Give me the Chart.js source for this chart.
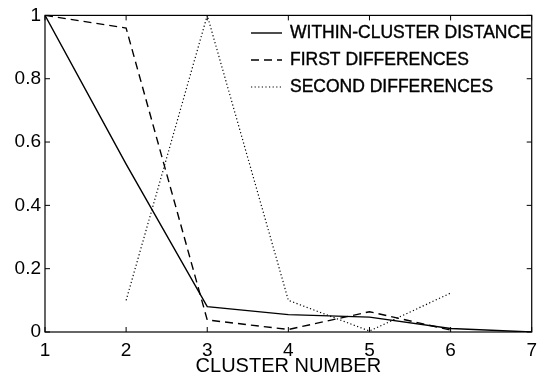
<!DOCTYPE html>
<html>
<head>
<meta charset="utf-8">
<script src="https://cdn.jsdelivr.net/npm/chart.js@4/dist/chart.umd.min.js"></script>
<style>
html,body{margin:0;padding:0;background:#fff;}
#wrap{width:544px;height:378px;}
</style>
</head>
<body>
<div id="wrap"><canvas id="c" width="544" height="378"></canvas></div>
<script>
const withinX = [1, 2, 3, 4, 5, 6, 7];
const withinY = [1.0, 0.53, 0.08, 0.055, 0.047, 0.011, 0.0];
const firstX = [1, 2, 3, 4, 5, 6];
const firstY = [1.0, 0.96, 0.038, 0.008, 0.064, 0.006];
const secondX = [2, 3, 4, 5, 6];
const secondY = [0.10, 1.0, 0.10, 0.003, 0.123];
const xTicks = [1, 2, 3, 4, 5, 6, 7];
const yTicks = [0, 0.2, 0.4, 0.6, 0.8, 1];
const seriesNames = ['WITHIN-CLUSTER DISTANCE', 'FIRST DIFFERENCES', 'SECOND DIFFERENCES'];
const xTitle = 'CLUSTER NUMBER';

const FONT = '"Liberation Sans", Arial, Helvetica, sans-serif';
const pts = (xs, ys) => xs.map((x, i) => ({x: x, y: ys[i]}));

const framePlugin = {
  id: 'frame',
  afterDatasetsDraw(chart) {
    const {ctx, chartArea: a, scales} = chart;
    ctx.save();
    ctx.strokeStyle = '#000';
    ctx.lineWidth = 1.2;
    ctx.strokeRect(a.left, a.top, a.right - a.left, a.bottom - a.top);
    const L = 5;
    ctx.lineWidth = 1;
    ctx.beginPath();
    xTicks.forEach(v => {
      const px = scales.x.getPixelForValue(v);
      ctx.moveTo(px, a.bottom); ctx.lineTo(px, a.bottom - L);
      ctx.moveTo(px, a.top); ctx.lineTo(px, a.top + L);
    });
    yTicks.forEach(v => {
      const py = scales.y.getPixelForValue(v);
      ctx.moveTo(a.left, py); ctx.lineTo(a.left + L, py);
      ctx.moveTo(a.right, py); ctx.lineTo(a.right - L, py);
    });
    ctx.stroke();
    // legend
    const lx0 = 251, lx1 = 282, tx = 290, y0 = 33, dy = 27;
    ctx.font = '17.5px ' + FONT;
    ctx.textBaseline = 'middle';
    ctx.textAlign = 'left';
    ctx.fillStyle = '#000';
    ctx.strokeStyle = '#000';
    chart.data.datasets.forEach((ds, i) => {
      const y = y0 + i * dy;
      ctx.save();
      ctx.strokeStyle = ds.borderColor;
      ctx.lineWidth = ds.borderWidth;
      ctx.setLineDash(ds.borderDash || []);
      ctx.beginPath();
      ctx.moveTo(lx0, y); ctx.lineTo(lx1, y);
      ctx.stroke();
      ctx.restore();
      ctx.fillText(ds.label, tx, y);
      ctx.lineWidth = 0.4;
      ctx.strokeText(ds.label, tx, y);
    });
    ctx.restore();
  }
};

new Chart(document.getElementById('c'), {
  type: 'line',
  data: {
    datasets: [
      {label: seriesNames[0], data: pts(withinX, withinY), borderColor: '#000', borderWidth: 1.4, borderDash: [], pointRadius: 0, tension: 0, fill: false},
      {label: seriesNames[1], data: pts(firstX, firstY), borderColor: '#000', borderWidth: 1.4, borderDash: [8, 5], pointRadius: 0, tension: 0, fill: false},
      {label: seriesNames[2], data: pts(secondX, secondY), borderColor: '#000', borderWidth: 1.2, borderDash: [1.2, 2.4], pointRadius: 0, tension: 0, fill: false}
    ]
  },
  options: {
    responsive: false,
    animation: false,
    layout: {padding: {left: 0, right: 7, top: 12, bottom: 0}},
    plugins: {legend: {display: false}, tooltip: {enabled: false}},
    scales: {
      x: {
        type: 'linear', min: 1, max: 7,
        afterBuildTicks: s => { s.ticks = xTicks.map(v => ({value: v})); },
        afterFit: s => { s.height = 46; },
        grid: {display: false, drawTicks: false},
        border: {display: false},
        ticks: {color: '#000', font: {family: FONT, size: 19}, padding: 7, maxRotation: 0, autoSkip: false},
        title: {display: true, text: xTitle, color: '#000', font: {family: FONT, size: 20}, padding: {top: 0, bottom: 0}}
      },
      y: {
        type: 'linear', min: 0, max: 1,
        afterBuildTicks: s => { s.ticks = yTicks.map(v => ({value: v})); },
        afterFit: s => { s.width = 45; },
        grid: {display: false, drawTicks: false},
        border: {display: false},
        ticks: {color: '#000', font: {family: FONT, size: 19}, padding: 4, callback: v => String(v)}
      }
    }
  },
  plugins: [framePlugin]
});
</script>
</body>
</html>
